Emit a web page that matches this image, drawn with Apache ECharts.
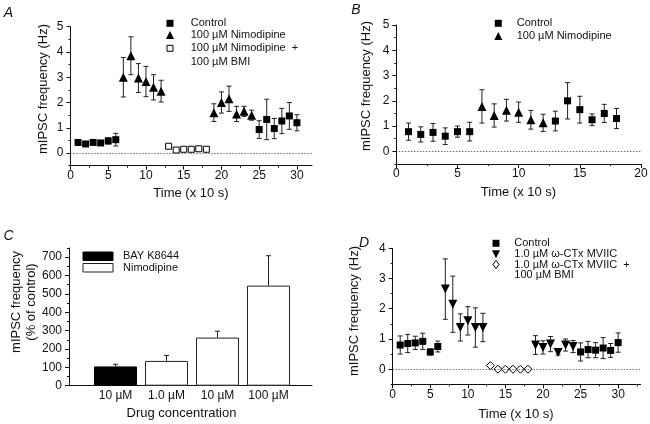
<!DOCTYPE html>
<html><head><meta charset="utf-8">
<script src="https://cdn.jsdelivr.net/npm/echarts@6/dist/echarts.min.js"></script>
<style>html,body{margin:0;padding:0;background:#fff}#c{width:650px;height:424px}</style>
</head><body><div id="c"></div>
<script>
// ---------- Panel A ----------
const aControlX = [1,2,3,4,5,6,25,26,27,28,29,30];
const aControlY = [0.42,0.36,0.42,0.40,0.48,0.53,0.93,1.33,0.97,1.27,1.47,1.20];
const aControlE = [0.10,0.05,0.10,0.06,0.12,0.25,0.35,0.80,0.40,0.50,0.53,0.32];
const aNimoX = [7,8,9,10,11,12,19,20,21,22,23,24];
const aNimoY = [3.00,3.85,2.97,2.83,2.60,2.45,1.60,2.00,2.15,1.55,1.65,1.50];
const aNimoE = [0.78,0.75,0.57,0.60,0.50,0.43,0.35,0.42,0.50,0.30,0.20,0.20];
const aBmiX = [13,14,15,16,17,18];
const aBmiY = [0.27,0.12,0.15,0.15,0.17,0.15];
const aBmiE = [0.03,0.03,0.03,0.03,0.03,0.03];
const aXTicks = [0,5,10,15,20,25,30];
const aXMinor = [2.5,7.5,12.5,17.5,22.5,27.5];
const aYTicks = [0,1,2,3,4,5];
const aYMinor = [-0.5,0.5,1.5,2.5,3.5,4.5];
// ---------- Panel B ----------
const bControlX = [1,2,3,4,5,6,13,14,15,16,17,18];
const bControlY = [0.78,0.67,0.75,0.60,0.78,0.78,1.20,2.00,1.65,1.25,1.50,1.30];
const bControlE = [0.34,0.30,0.35,0.33,0.22,0.37,0.39,0.72,0.53,0.23,0.36,0.40];
const bNimoX = [7,8,9,10,11,12];
const bNimoY = [1.78,1.42,1.63,1.55,1.25,1.13];
const bNimoE = [0.66,0.46,0.43,0.40,0.37,0.34];
const bXTicks = [0,5,10,15,20];
const bXMinor = [2.5,7.5,12.5,17.5];
const bYTicks = [0,1,2,3,4,5];
const bYMinor = [-0.5,0.5,1.5,2.5,3.5,4.5];
// ---------- Panel C ----------
const cLabels = ['10 µM','1.0 µM','10 µM','100 µM'];
const cBay = [105, null, null, null];
const cNimo = [null, 135, 262, 545];
const cErr = [12, 30, 35, 163];
const cYTicks = [0,100,200,300,400,500,600,700];
const cYMinor = [50,150,250,350,450,550,650,750];
// ---------- Panel D ----------
const dControlX = [1,2,3,4,5,6,25,26,27,28,29,30];
const dControlY = [0.80,0.85,0.87,0.92,0.57,0.75,0.57,0.65,0.63,0.70,0.62,0.88];
const dControlE = [0.30,0.30,0.22,0.27,0.10,0.18,0.30,0.27,0.25,0.35,0.23,0.32];
const dCtxX = [7,8,9,10,11,12,19,20,21,22,23,24];
const dCtxY = [2.65,2.15,1.38,1.60,1.38,1.38,0.80,0.72,0.83,0.55,0.80,0.75];
const dCtxE = [1.00,0.93,0.45,0.47,0.65,0.47,0.31,0.22,0.25,0.08,0.20,0.20];
const dBmiX = [13,14,15,16,17,18];
const dBmiY = [0.12,0.00,0.00,0.00,0.00,0.00];
const dXTicks = [0,5,10,15,20,25,30];
const dXMinor = [2.5,7.5,12.5,17.5,22.5,27.5,32.5];
const dYTicks = [0,1,2,3,4];
const dYMinor = [-0.5,0.5,1.5,2.5,3.5];

const FONT = '"Liberation Sans", Arial, sans-serif';
const INK = '#111';

function pair(gridIndex, dim, min, max, majors, minors, margin) {
  const main = {
    type: 'value', gridIndex, min, max, position: dim === 'x' ? 'bottom' : 'left',
    axisLine: {show: true, onZero: false, lineStyle: {color: INK, width: 1}},
    axisTick: {show: true, length: 4, customValues: majors, lineStyle: {color: INK}},
    axisLabel: {show: true, customValues: majors, margin, fontSize: 12, color: INK, fontFamily: FONT},
    splitLine: {show: false}, minorTick: {show: false}
  };
  const minor = Object.assign({}, main, {
    axisLine: {show: false, onZero: false},
    axisTick: {show: true, length: 2, customValues: minors, lineStyle: {color: INK}},
    axisLabel: {show: false}
  });
  return [main, minor];
}

function errRender(upOnly, cap) {
  return function (params, api) {
    const x = api.value(0), y = api.value(1), e = api.value(2);
    const top = api.coord([x, y + e]);
    const bot = api.coord([x, upOnly ? y : y - e]);
    const st = {stroke: '#222', lineWidth: 1};
    const ch = [
      {type: 'line', shape: {x1: top[0], y1: top[1], x2: bot[0], y2: bot[1]}, style: st},
      {type: 'line', shape: {x1: top[0] - cap, y1: top[1], x2: top[0] + cap, y2: top[1]}, style: st}
    ];
    if (!upOnly) ch.push({type: 'line', shape: {x1: bot[0] - cap, y1: bot[1], x2: bot[0] + cap, y2: bot[1]}, style: st});
    return {type: 'group', children: ch};
  };
}
function errSeries(xs, ys, es, xi, yi) {
  return {type: 'custom', xAxisIndex: xi, yAxisIndex: yi, silent: true, z: 1,
    encode: {x: 0, y: 1}, renderItem: errRender(false, 2.5),
    data: xs.map((x, i) => [x, ys[i], es[i]])};
}
const zeroLine = {silent: true, symbol: ['none', 'none'], label: {show: false},
  lineStyle: {type: [1, 2], color: '#333', width: 1}, data: [{yAxis: 0}], animation: false};
function pts(xs, ys, xi, yi, symbol, size, fill, extra) {
  return Object.assign({type: 'scatter', xAxisIndex: xi, yAxisIndex: yi, symbol, symbolSize: size, z: 3,
    itemStyle: {color: fill, borderColor: '#000', borderWidth: fill === '#fff' ? 1 : 0, opacity: 1},
    data: xs.map((x, i) => [x, ys[i]])}, extra || {});
}

const xAxes = [].concat(
  pair(0, 'x', 0, 32, aXTicks, aXMinor, 4),
  pair(1, 'x', 0, 20, bXTicks, bXMinor, 4),
  [{type: 'value', gridIndex: 2, min: 0, max: 1, axisLine: {show: true, lineStyle: {color: INK}},
    axisTick: {show: false}, axisLabel: {show: false}, splitLine: {show: false}},
   {type: 'category', gridIndex: 3, data: cLabels.map((_, i) => 'c' + i),
    axisLine: {show: false}, axisTick: {show: false},
    axisLabel: {interval: 0, margin: 4, fontSize: 12, color: INK, fontFamily: FONT, formatter: (v, i) => cLabels[i]}}],
  pair(4, 'x', 0, 33, dXTicks, dXMinor, 4)
);
const yAxes = [].concat(
  pair(0, 'y', -0.5, 5, aYTicks, aYMinor, 7),
  pair(1, 'y', -0.5, 5, bYTicks, bYMinor, 7),
  pair(2, 'y', 0, 750, cYTicks, cYMinor, 7),
  [{type: 'value', gridIndex: 3, min: 0, max: 750, show: false}],
  pair(4, 'y', -0.5, 4, dYTicks, dYMinor, 7)
);

const grids = [
  {left: 70.5, top: 26.7, width: 241.5, height: 139},
  {left: 396.3, top: 25, width: 244.7, height: 139},
  {left: 69, top: 248, width: 243, height: 137.7},
  {left: 90, top: 248, width: 204, height: 137.7},
  {left: 392.7, top: 248.3, width: 248, height: 136}
].map(g => Object.assign({outerBoundsMode: 'none', containLabel: false}, g));

const series = [
  // A
  errSeries(aControlX, aControlY, aControlE, 0, 0),
  errSeries(aNimoX, aNimoY, aNimoE, 0, 0),
  errSeries(aBmiX, aBmiY, aBmiE, 0, 0),
  pts(aControlX, aControlY, 0, 0, 'rect', 7, '#000', {markLine: zeroLine}),
  pts(aNimoX, aNimoY, 0, 0, 'triangle', 9, '#000'),
  pts(aBmiX, aBmiY, 0, 0, 'rect', 6, '#fff'),
  // B
  errSeries(bControlX, bControlY, bControlE, 2, 2),
  errSeries(bNimoX, bNimoY, bNimoE, 2, 2),
  pts(bControlX, bControlY, 2, 2, 'rect', 7, '#000', {markLine: zeroLine}),
  pts(bNimoX, bNimoY, 2, 2, 'triangle', 9, '#000'),
  // C
  {type: 'bar', xAxisIndex: 5, yAxisIndex: 6, barWidth: 43, barGap: '-100%',
   itemStyle: {color: '#000', borderColor: '#000', borderWidth: 1}, data: cBay.map(v => v === null ? '-' : v)},
  {type: 'bar', xAxisIndex: 5, yAxisIndex: 6, barWidth: 43, barGap: '-100%',
   itemStyle: {color: '#fff', borderColor: '#222', borderWidth: 1}, data: cNimo.map(v => v === null ? '-' : v)},
  {type: 'custom', xAxisIndex: 5, yAxisIndex: 6, silent: true, z: 1, encode: {x: 0, y: 1},
   renderItem: errRender(true, 2.5),
   data: cErr.map((e, i) => [i, cBay[i] !== null ? cBay[i] : cNimo[i], e])},
  // D
  errSeries(dControlX, dControlY, dControlE, 6, 7),
  errSeries(dCtxX, dCtxY, dCtxE, 6, 7),
  pts(dControlX, dControlY, 6, 7, 'rect', 7, '#000', {markLine: zeroLine}),
  pts(dCtxX, dCtxY, 6, 7, 'triangle', 9, '#000', {symbolRotate: 180}),
  pts(dBmiX, dBmiY, 6, 7, 'diamond', 8, '#fff')
];

function txt(x, y, text, opt) {
  return Object.assign({type: 'text', x, y, silent: true, style: Object.assign({text, fill: INK,
    font: '11px ' + FONT, textAlign: 'left', textVerticalAlign: 'middle'}, (opt && opt.style) || {})},
    opt && opt.rotation ? {rotation: opt.rotation} : {});
}
function sq(cx, cy, s, fill) {
  return {type: 'rect', silent: true, shape: {x: cx - s / 2, y: cy - s / 2, width: s, height: s},
    style: {fill, stroke: '#000', lineWidth: fill === '#fff' ? 1 : 0}};
}
function tri(cx, cy, s, down) {
  const h = s, w = s;
  const pts = down ? [[cx - w / 2, cy - h / 2], [cx + w / 2, cy - h / 2], [cx, cy + h / 2]]
                   : [[cx - w / 2, cy + h / 2], [cx + w / 2, cy + h / 2], [cx, cy - h / 2]];
  return {type: 'polygon', silent: true, shape: {points: pts}, style: {fill: '#000'}};
}
function dia(cx, cy, s) {
  return {type: 'polygon', silent: true,
    shape: {points: [[cx, cy - s / 2], [cx + s / 2.6, cy], [cx, cy + s / 2], [cx - s / 2.6, cy]]},
    style: {fill: '#fff', stroke: '#000', lineWidth: 1}};
}
const R = Math.PI / 2;
const titleStyle = {font: '13px ' + FONT, textAlign: 'center'};
const letterStyle = {font: 'italic 14px ' + FONT, textAlign: 'center'};

const graphic = [
  // panel letters
  txt(8.5, 13, 'A', {style: letterStyle}),
  txt(356, 10, 'B', {style: letterStyle}),
  txt(8.5, 236, 'C', {style: letterStyle}),
  txt(364, 243, 'D', {style: letterStyle}),
  // axis titles
  txt(43.3, 89, 'mIPSC frequency (Hz)', {style: titleStyle, rotation: R}),
  txt(191, 193, 'Time (x 10 s)', {style: titleStyle}),
  txt(366.7, 86, 'mIPSC frequency (Hz)', {style: titleStyle, rotation: R}),
  txt(518.5, 192, 'Time (x 10 s)', {style: titleStyle}),
  txt(23.8, 302, 'mIPSC frequency\n(% of control)', {style: Object.assign({lineHeight: 15.7}, titleStyle), rotation: R}),
  txt(181.5, 413.3, 'Drug concentration', {style: titleStyle}),
  txt(354, 311, 'mIPSC frequency (Hz)', {style: titleStyle, rotation: R}),
  txt(516, 414, 'Time (x 10 s)', {style: titleStyle}),
  // legend A
  sq(170, 23.3, 7, '#000'), tri(170, 35, 8, false), sq(170, 48.3, 6, '#fff'),
  txt(190.7, 23.3, 'Control'), txt(190.7, 35, '100 µM Nimodipine'),
  txt(190.7, 48.3, '100 µM Nimodipine  +'), txt(190.7, 61.5, '100 µM BMI'),
  // legend B
  sq(498.3, 23.3, 7, '#000'), tri(498.3, 36, 8, false),
  txt(516.7, 23.3, 'Control'), txt(516.7, 36, '100 µM Nimodipine'),
  // legend C
  {type: 'rect', silent: true, shape: {x: 83, y: 252, width: 30, height: 8.5}, style: {fill: '#000', stroke: '#000'}},
  {type: 'rect', silent: true, shape: {x: 83, y: 263.5, width: 30, height: 8.5}, style: {fill: '#fff', stroke: '#222', lineWidth: 1}},
  txt(123, 256, 'BAY K8644'), txt(123, 267.7, 'Nimodipine'),
  // legend D
  sq(496, 243.3, 7, '#000'), tri(496, 254.3, 8, true), dia(496, 264.5, 8),
  txt(514.3, 243.3, 'Control'), txt(514.3, 254.3, '1.0 µM ω-CTx MVIIC'),
  txt(514.3, 264.8, '1.0 µM ω-CTx MVIIC  +'), txt(514.3, 275.3, '100 µM BMI')
];

const chart = echarts.init(document.getElementById('c'), null, {renderer: 'canvas'});
chart.setOption({
  animation: false, backgroundColor: '#fff',
  textStyle: {fontFamily: FONT},
  grid: grids, xAxis: xAxes, yAxis: yAxes, series, graphic
});
</script></body></html>
